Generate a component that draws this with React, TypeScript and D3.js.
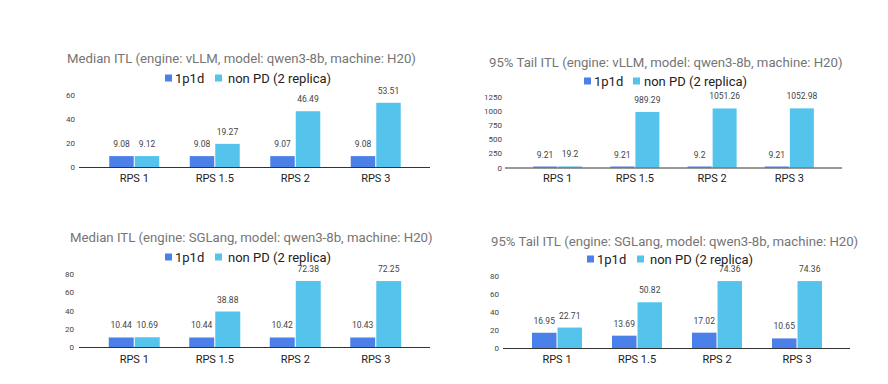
import React from "react";
import * as d3 from "d3";

const categories = ["RPS 1", "RPS 1.5", "RPS 2", "RPS 3"];
const seriesNames = ["1p1d", "non PD (2 replica)"];
const seriesColors = ["#4a80e8", "#55c4ec"];

const vllmMedian1p1d = [9.08, 9.08, 9.07, 9.08];
const vllmMedianNonPD = [9.12, 19.27, 46.49, 53.51];
const vllmTail1p1d = [9.21, 9.21, 9.2, 9.21];
const vllmTailNonPD = [19.2, 989.29, 1051.26, 1052.98];
const sglMedian1p1d = [10.44, 10.44, 10.42, 10.43];
const sglMedianNonPD = [10.69, 38.88, 72.38, 72.25];
const sglTail1p1d = [16.95, 13.69, 17.02, 10.65];
const sglTailNonPD = [22.71, 50.82, 74.36, 74.36];

const ticksA = [0, 20, 40, 60];
const ticksB = [0, 250, 500, 750, 1000, 1250];
const ticksC = [0, 20, 40, 60, 80];
const ticksD = [0, 20, 40, 60, 80];

const titles = [
  "Median ITL (engine: vLLM, model: qwen3-8b, machine: H20)",
  "95% Tail ITL (engine: vLLM, model: qwen3-8b, machine: H20)",
  "Median ITL (engine: SGLang, model: qwen3-8b, machine: H20)",
  "95% Tail ITL (engine: SGLang, model: qwen3-8b, machine: H20)",
];

const charts = [
  { title: titles[0], series: [vllmMedian1p1d, vllmMedianNonPD], ticks: ticksA },
  { title: titles[1], series: [vllmTail1p1d, vllmTailNonPD], ticks: ticksB },
  { title: titles[2], series: [sglMedian1p1d, sglMedianNonPD], ticks: ticksC },
  { title: titles[3], series: [sglTail1p1d, sglTailNonPD], ticks: ticksD },
];

const layouts = [
  { titleX: 67, titleY: 62.5, legendX: 165, legendY: 78, yBase: 167, yTop: 95, band: [94, 416], group: 50, axis: [79, 430], tickRight: 75, xLabelY: 182, leg2: 50, leg2t: 63 },
  { titleX: 489, titleY: 66.5, legendX: 584, legendY: 81, yBase: 167.5, yTop: 97.3, band: [519, 828], group: 49, axis: [505, 842], tickRight: 502, xLabelY: 182, leg2: 49, leg2t: 60 },
  { titleX: 70, titleY: 241.5, legendX: 165, legendY: 257, yBase: 347, yTop: 274, band: [94, 416], group: 51, axis: [79, 430], tickRight: 74, xLabelY: 363, leg2: 50, leg2t: 63 },
  { titleX: 491, titleY: 245.5, legendX: 587, legendY: 259, yBase: 348, yTop: 276, band: [517, 837], group: 50, axis: [503, 850], tickRight: 499, xLabelY: 363, leg2: 50, leg2t: 63 },
];

const FONT = "Roboto, 'Noto Sans', sans-serif";

function Chart({ data, lay }: { data: typeof charts[0]; lay: typeof layouts[0] }) {
  const yMax = data.ticks[data.ticks.length - 1];
  const y = d3.scaleLinear().domain([0, yMax]).range([lay.yBase, lay.yTop]);
  const step = (lay.band[1] - lay.band[0]) / categories.length;
  const pad = 1 - lay.group / step;
  const x = d3
    .scaleBand<string>()
    .domain(categories)
    .range(lay.band as [number, number])
    .paddingInner(pad)
    .paddingOuter(pad / 2);
  const xs = d3
    .scaleBand<number>()
    .domain(d3.range(seriesNames.length))
    .range([0, x.bandwidth()])
    .paddingInner(0.04);
  const fmt = (v: number) => String(v);
  return (
    <g>
      <text x={lay.titleX} y={lay.titleY} fontSize={13.2} fill="#757575" fontFamily={FONT}>
        {data.title}
      </text>
      {seriesNames.map((s, i) => {
        const sx = lay.legendX + (i === 0 ? 0 : lay.leg2);
        const tx = lay.legendX + (i === 0 ? 10 : lay.leg2t);
        return (
          <g key={s}>
            <rect x={sx} y={lay.legendY - 3.5} width={7} height={7} fill={seriesColors[i]} />
            <text x={tx} y={lay.legendY + 4.5} fontSize={13} fill="#222" fontFamily={FONT}>
              {s}
            </text>
          </g>
        );
      })}
      {data.ticks.map((t) => (
        <text key={t} x={lay.tickRight} y={y(t) + 3} fontSize={8} fill="#444" textAnchor="end" fontFamily={FONT}>
          {t}
        </text>
      ))}
      {categories.map((c, ci) => (
        <g key={c}>
          {data.series.map((vals, si) => {
            const bx = (x(c) as number) + (xs(si) as number);
            const by = Math.min(y(vals[ci]), lay.yBase - 1);
            return (
              <g key={si}>
                <rect x={bx} y={by} width={xs.bandwidth()} height={lay.yBase - by} fill={seriesColors[si]} />
                <text
                  x={bx + xs.bandwidth() / 2}
                  y={by - 9}
                  fontSize={8.5}
                  fill="#444"
                  textAnchor="middle"
                  fontFamily={FONT}
                >
                  {fmt(vals[ci])}
                </text>
              </g>
            );
          })}
          <text
            x={(x(c) as number) + x.bandwidth() / 2}
            y={lay.xLabelY}
            fontSize={11}
            fill="#222"
            textAnchor="middle"
            fontFamily={FONT}
          >
            {c}
          </text>
        </g>
      ))}
      <line x1={lay.axis[0]} x2={lay.axis[1]} y1={lay.yBase + 0.5} y2={lay.yBase + 0.5} stroke="#333" strokeWidth={1} />
    </g>
  );
}

export default function App() {
  return (
    <svg
      width={888}
      height={384}
      style={{ position: "absolute", left: 0, top: 0, background: "#fff" }}
    >
      <rect width={888} height={384} fill="#fff" />
      {charts.map((c, i) => (
        <Chart key={i} data={c} lay={layouts[i]} />
      ))}
    </svg>
  );
}
